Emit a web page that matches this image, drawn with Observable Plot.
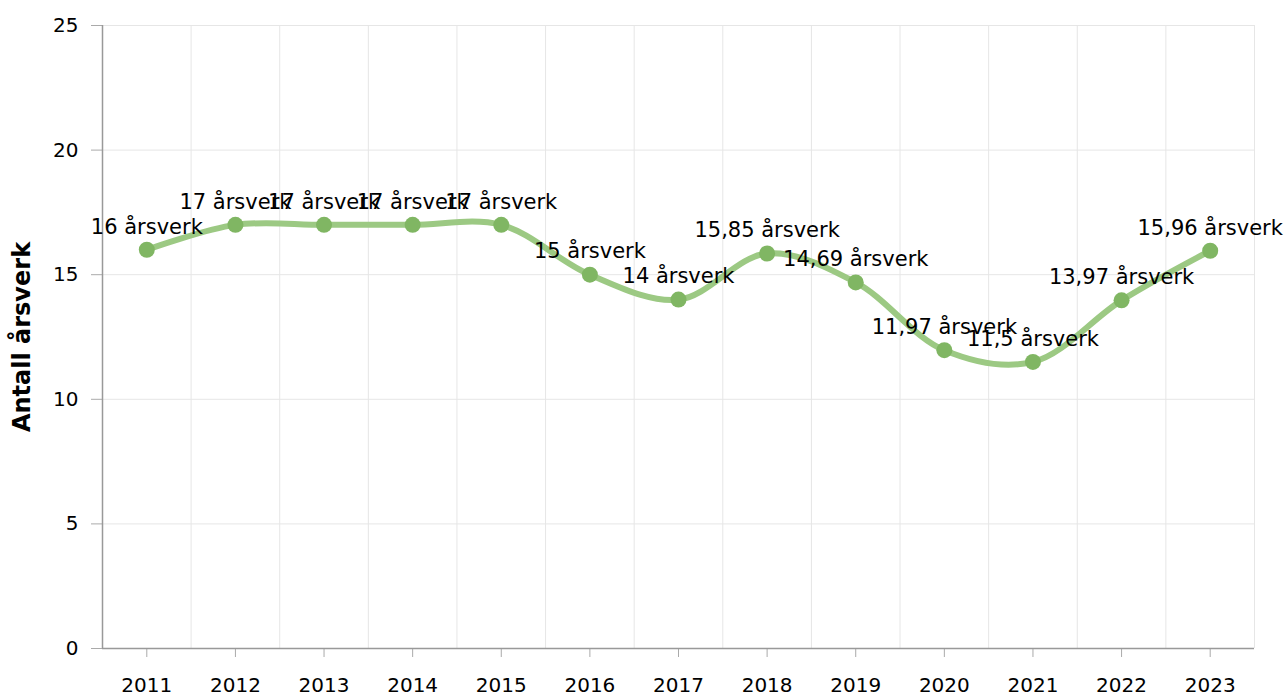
<!DOCTYPE html>
<html>
<head>
<meta charset="utf-8">
<script src="https://cdn.jsdelivr.net/npm/d3@7"></script>
<script src="https://cdn.jsdelivr.net/npm/@observablehq/plot@0.6"></script>
<style>
  html, body { margin: 0; padding: 0; background: #fff; }
  #chart { width: 1288px; height: 695px; }
</style>
</head>
<body>
<div id="chart"></div>
<script>
const years = [2011, 2012, 2013, 2014, 2015, 2016, 2017, 2018, 2019, 2020, 2021, 2022, 2023];
const values = [16, 17, 17, 17, 17, 15, 14, 15.85, 14.69, 11.97, 11.5, 13.97, 15.96];
const yTicks = [0, 5, 10, 15, 20, 25];
const unitLabel = "årsverk";
const yTitle = "Antall årsverk";

const data = years.map((year, i) => ({year, value: values[i]}));
const boundaries = [years[0] - 0.5, ...years.map(y => y + 0.5)];
const fmt = v => String(v).replace(".", ",") + " " + unitLabel;

const chart = Plot.plot({
  width: 1288,
  height: 695,
  marginLeft: 102,
  marginRight: 34,
  marginTop: 25,
  marginBottom: 47,
  style: {fontFamily: "'DejaVu Sans', Verdana, sans-serif", fontSize: "20px", color: "#000", background: "#fff"},
  x: {type: "linear", domain: [years[0] - 0.5, years[years.length - 1] + 0.5]},
  y: {domain: [0, 25]},
  marks: [
    Plot.gridY(yTicks, {stroke: "#e6e6e6", strokeOpacity: 1}),
    Plot.ruleX(boundaries.slice(1), {stroke: "#e6e6e6", strokeOpacity: 1}),
    Plot.axisY(yTicks, {tickSize: 11, tickPadding: 13, stroke: "#aaa", fill: "#000", fontSize: 20, label: null}),
    Plot.axisX(years, {tickSize: 9, tickPadding: 20, stroke: "#aaa", fill: "#000", fontSize: 20, tickFormat: d => String(d), label: null}),
    Plot.ruleY([0], {stroke: "#999", strokeWidth: 1.5}),
    Plot.ruleX([boundaries[0]], {stroke: "#999", strokeWidth: 1.5}),
    Plot.line(data, {x: "year", y: "value", curve: "catmull-rom", stroke: "#9cc983", strokeWidth: 6}),
    Plot.dot(data, {x: "year", y: "value", r: 8, fill: "#80b663", stroke: "none"}),
    Plot.text(data, {x: "year", y: "value", text: d => fmt(d.value), dy: -23, fontSize: 21, fill: "#000"}),
    Plot.text([yTitle], {frameAnchor: "left", textAnchor: "middle", rotate: -90, dx: -80, fontWeight: "bold", fontSize: 24, fill: "#000"})
  ]
});
document.getElementById("chart").appendChild(chart);
</script>
</body>
</html>
